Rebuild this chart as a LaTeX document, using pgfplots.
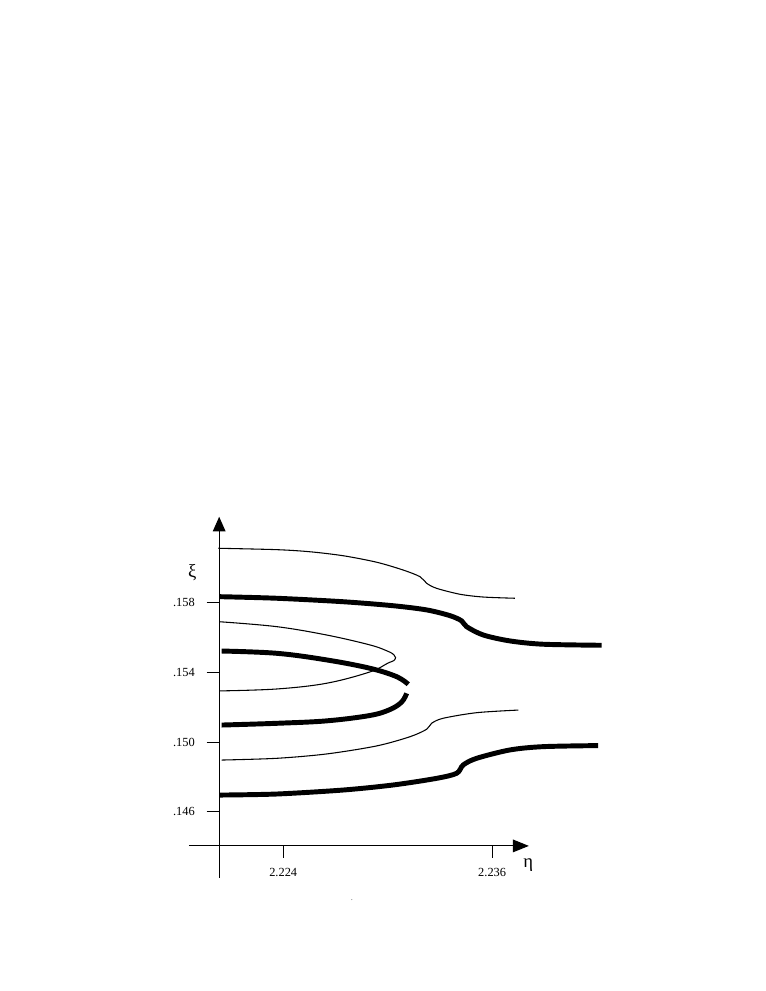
\documentclass[border=0pt]{standalone}
\usepackage{fontspec}
\setmainfont{Liberation Serif}
\usepackage{pgfplots}
\pgfplotsset{compat=1.18}
\usetikzlibrary{arrows.meta}

\begin{document}
\begin{tikzpicture}
\begin{axis}[
  scale only axis, width=574.5pt, height=743.25pt,
  xmin=2.20773, xmax=2.25173, ymin=.13571, ymax=.19261,
  hide axis, clip=false,
]
% page frame (keeps the reference's whitespace)
\path (rel axis cs:0,0) rectangle (rel axis cs:1,1);

% axes
\draw[line width=0.8pt, -{Triangle[length=11pt,width=9.5pt]}]
  (axis cs:2.22032,.1422) -- (axis cs:2.22032,.16294);
\draw[line width=0.8pt, -{Triangle[length=12pt,width=9.5pt]}]
  (axis cs:2.21858,.14404) -- (axis cs:2.23811,.14404);

% ticks and labels
\pgfplotsinvokeforeach{.158,.154,.150,.146}{
  \draw[line width=0.8pt] (axis cs:2.21960,#1) -- (axis cs:2.22032,#1);
  \node[anchor=east, font=\fontsize{9.3}{10}\selectfont, inner sep=0pt]
    at (axis cs:2.21893,#1) {#1};
}
\pgfplotsinvokeforeach{2.224,2.236}{
  \draw[line width=0.8pt] (axis cs:#1,.14335) -- (axis cs:#1,.14404);
  \node[font=\fontsize{9.3}{10}\selectfont, inner sep=0pt]
    at (axis cs:#1,.14251) {#1};
}
\node[font=\fontsize{14}{16}\selectfont] at (axis cs:2.21878,.15974) {ξ};
\node[font=\fontsize{14}{16}\selectfont] at (axis cs:2.23807,.14295) {η};
\node[font=\tiny, inner sep=0pt] at (axis cs:2.22795,.14094) {.};

% thin branches
\addplot[black, line width=0.8pt, smooth, tension=0.5] coordinates {
  (2.22027,.16113) (2.22362,.16105) (2.22553,.16093) (2.22745,.16070)
  (2.22936,.16033) (2.23089,.15988) (2.23185,.15950) (2.23224,.15912)
  (2.23281,.15883) (2.23415,.15849) (2.23549,.15833) (2.23731,.15826)};
\addplot[black, line width=0.8pt, smooth, tension=0.6] coordinates {
  (2.22036,.15691) (2.22362,.15663) (2.22649,.15615) (2.22898,.15558)
  (2.23000,.15522) (2.23035,.15502) (2.23045,.15486) (2.23035,.15468)
  (2.23000,.15453) (2.22898,.15403)
  (2.22649,.15338) (2.22362,.15305) (2.22036,.15294)};
\addplot[black, line width=0.8pt, smooth, tension=0.5] coordinates {
  (2.22046,.14897) (2.22362,.14907) (2.22649,.14932) (2.22936,.14978)
  (2.23128,.15031) (2.23224,.15074) (2.23252,.15108) (2.23319,.15137)
  (2.23511,.15169) (2.23750,.15184)};

% thick branches
\addplot[black, line width=3.7pt, smooth, tension=0.5] coordinates {
  (2.22036,.15835) (2.22362,.15826) (2.22745,.15806) (2.23032,.15783)
  (2.23224,.15759) (2.23358,.15726) (2.23425,.15696) (2.23453,.15663)
  (2.23549,.15615) (2.23702,.15581) (2.23893,.15562) (2.24229,.15556)};
\addplot[black, line width=3.7pt, smooth, tension=0.6] coordinates {
  (2.22046,.15523) (2.22362,.15510) (2.22649,.15472) (2.22898,.15424)
  (2.23051,.15376) (2.23118,.15332)};
\addplot[black, line width=3.7pt, smooth, tension=0.6] coordinates {
  (2.23109,.15280) (2.23080,.15230) (2.23013,.15187) (2.22898,.15153)
  (2.22649,.15122) (2.22362,.15108) (2.22046,.15098)};
\addplot[black, line width=3.7pt, smooth, tension=0.5] coordinates {
  (2.22036,.14696) (2.22362,.14702) (2.22745,.14725) (2.23032,.14754)
  (2.23281,.14792) (2.23396,.14821) (2.23434,.14869) (2.23511,.14907)
  (2.23702,.14955) (2.23893,.14974) (2.24209,.14980)};
\end{axis}
\end{tikzpicture}
\end{document}
